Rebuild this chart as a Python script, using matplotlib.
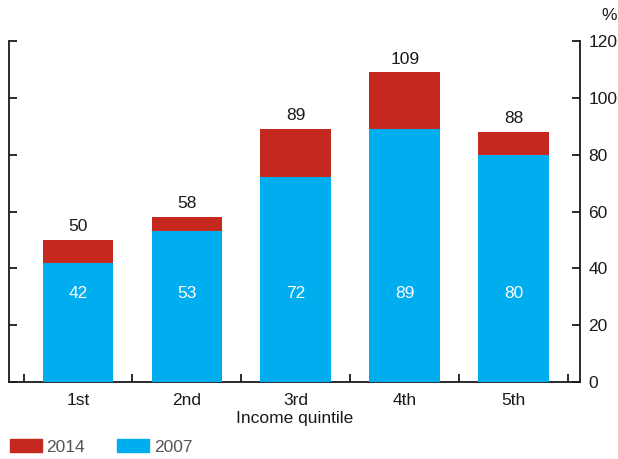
import numpy as np
import matplotlib.pyplot as plt
import matplotlib.patches as mpatches

plt.rcParams['font.family'] = ['Liberation Sans', 'DejaVu Sans']

# --- Datos ---
quintiles = ['1st', '2nd', '3rd', '4th', '5th']
val_2014 = [50, 58, 89, 109, 88]
val_2007 = [42, 53, 72, 89, 80]
yticks = [0, 20, 40, 60, 80, 100, 120]

red = '#C4281F'
blue = '#00ADEF'
fs = 12.5

fig = plt.figure(figsize=(6.18, 4.59), dpi=100)
ax = fig.add_axes([9/618, 77/459, 571/618, 341/459])

x = np.arange(len(quintiles))
w = 0.65
ax.bar(x, val_2014, width=w, color=red, zorder=2)
ax.bar(x, val_2007, width=w, color=blue, zorder=3)

for xi, tot, base in zip(x, val_2014, val_2007):
    ax.text(xi, tot + 2.0, f'{tot}', ha='center', va='bottom', fontsize=fs, color='#1a1a1a')
    ax.text(xi, 31, f'{base}', ha='center', va='center', fontsize=fs, color='white', zorder=4)

ax.set_xlim(-0.634, 4.61)
ax.set_ylim(0, 120)

# ejes
ax.spines['top'].set_visible(False)
for s in ['left', 'right', 'bottom']:
    ax.spines[s].set_linewidth(1.3)
    ax.spines[s].set_color('#1a1a1a')

ax.set_yticks(yticks)
ax.yaxis.set_ticks_position('both')
ax.tick_params(axis='y', direction='in', length=6, width=1.3, color='#1a1a1a',
               labelleft=False, labelright=True, labelsize=fs, labelcolor='#1a1a1a', pad=6)

ax.set_xticks(np.arange(-0.5, len(quintiles), 1.0))
ax.set_xticklabels([])
ax.tick_params(axis='x', which='major', direction='in', length=6, width=1.3, color='#1a1a1a')
ax.set_xticks(x, minor=True)
ax.set_xticklabels(quintiles, minor=True)
ax.tick_params(axis='x', which='minor', length=0, labelsize=fs, labelcolor='#1a1a1a', pad=8)
ax.set_xlabel('Income quintile', fontsize=fs, color='#1a1a1a', labelpad=2)

fig.text(609/618, 1 - 15/459, '%', ha='center', va='center', fontsize=fs, color='#1a1a1a')

handles = [mpatches.Patch(color=red, label='2014'), mpatches.Patch(color=blue, label='2007')]
fig.legend(handles=handles, loc='center left', bbox_to_anchor=(10/618, 1 - 447/459), ncol=2,
           frameon=False, fontsize=fs, handlelength=1.85, handleheight=0.75, handletextpad=0.25,
           columnspacing=1.85, labelcolor='#555555', borderaxespad=0, borderpad=0)

plt.savefig('out.png', dpi=100)
